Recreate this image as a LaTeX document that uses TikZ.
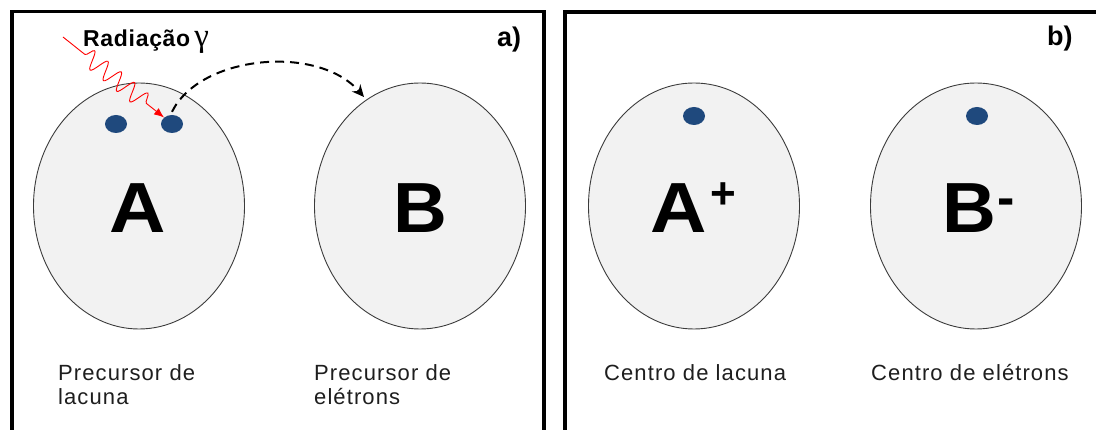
\documentclass[tikz,border=0pt]{standalone}
\usepackage{fontspec}
\setmainfont{Liberation Sans}
\newfontfamily\greekfont{Liberation Serif}
\newfontfamily\lblfont[LetterSpace=5]{Liberation Sans}
\newfontfamily\radfont[LetterSpace=3]{Liberation Sans}
\usetikzlibrary{decorations.pathmorphing,arrows.meta,shapes.geometric}
\definecolor{dotblue}{RGB}{31,73,125}
\definecolor{ellfill}{RGB}{242,242,242}
\definecolor{ellline}{RGB}{60,60,60}
\definecolor{lbltext}{RGB}{30,30,30}
\begin{document}
\begin{tikzpicture}[x=1pt,y=-1pt,
  panel/.style={draw=black,line width=3.5pt},
  cell/.style={ellipse,draw=ellline,fill=ellfill,line width=0.9pt,minimum width=211pt,minimum height=246pt,inner sep=0pt},
  dotnode/.style={ellipse,fill=dotblue,minimum width=22pt,minimum height=18pt,inner sep=0pt},
  bigletter/.style={inner sep=0pt,font=\fontsize{71}{71}\selectfont\bfseries},
  lbl/.style={anchor=base west,inner sep=0pt,align=left,text=lbltext,font=\fontsize{22}{24}\selectfont\lblfont},
  tag/.style={anchor=base west,inner sep=0pt,font=\fontsize{27}{27}\selectfont\bfseries},
  wave/.style={draw=red,line width=0.9pt,decorate,decoration={snake,amplitude=9pt,segment length=17pt,pre length=28pt,post length=22pt}},
  jump/.style={draw=black,line width=2pt,dash pattern=on 9pt off 6pt}
]
\useasboundingbox (0,0) rectangle (1096,430);
\clip (0,0) rectangle (1096,430);
\fill[white] (0,0) rectangle (1096,430);
% panels
\draw[panel] (12,11.5) rectangle (544,450);
\draw[panel] (565,12) rectangle (1120,450);
% ellipses
\node[cell] (ellA) at (139,206) {};
\node[cell] (ellB) at (420,206) {};
\node[cell] (ellAp) at (694,206) {};
\node[cell] (ellBm) at (976,206) {};
% dots
\node[dotnode] (dotA1) at (116,124) {};
\node[dotnode] (dotA2) at (172,124) {};
\node[dotnode] (dotAp) at (694,116) {};
\node[dotnode] (dotBm) at (977,116) {};
% big letters
\node[bigletter,anchor=base] (lA) at (138,233) {\scalebox{1.1}[1]{A}};
\node[bigletter,anchor=base] (lB) at (420,233) {\scalebox{1.05}[1]{B}};
\node[bigletter,anchor=base west] (lAp) at (650,233) {\scalebox{1.1}[1]{A}\hspace{4pt}\raisebox{24pt}{\fontsize{44}{44}\selectfont\bfseries +}};
\node[bigletter,anchor=base west] (lBm) at (942,233) {\scalebox{1.05}[1]{B}\hspace{1pt}\raisebox{17pt}{\fontsize{52}{52}\selectfont\bfseries -}};
% labels
\node[lbl] (tA) at (58,405) {Precursor de\\lacuna};
\node[lbl] (tB) at (314,405) {Precursor de\\elétrons};
\node[lbl] (tAp) at (604,381) {Centro de lacuna};
\node[lbl] (tBm) at (871,381) {Centro de elétrons};
\node[tag] (ta) at (497,47) {a)};
\node[tag] (tb) at (1047,46) {b)};
% radiation
\node[anchor=base west,inner sep=0pt,font=\fontsize{23}{23}\selectfont\radfont\bfseries] (rad) at (83,47) {Radiação\hspace{4pt}{\greekfont\mdseries\fontsize{33}{33}\selectfont γ}};
\coordinate (radstart) at (63,37);
\draw[wave,-{Latex[length=10pt,width=8pt]}] (radstart) -- (dotA2.north west);
% electron jump
\coordinate (arrend) at (364,97);
\draw[jump,-{Stealth[length=12pt,width=11pt]}] (dotA2.north) ++(0,-3) .. controls (200,55) and (318,44) .. (arrend);
\end{tikzpicture}
\end{document}
